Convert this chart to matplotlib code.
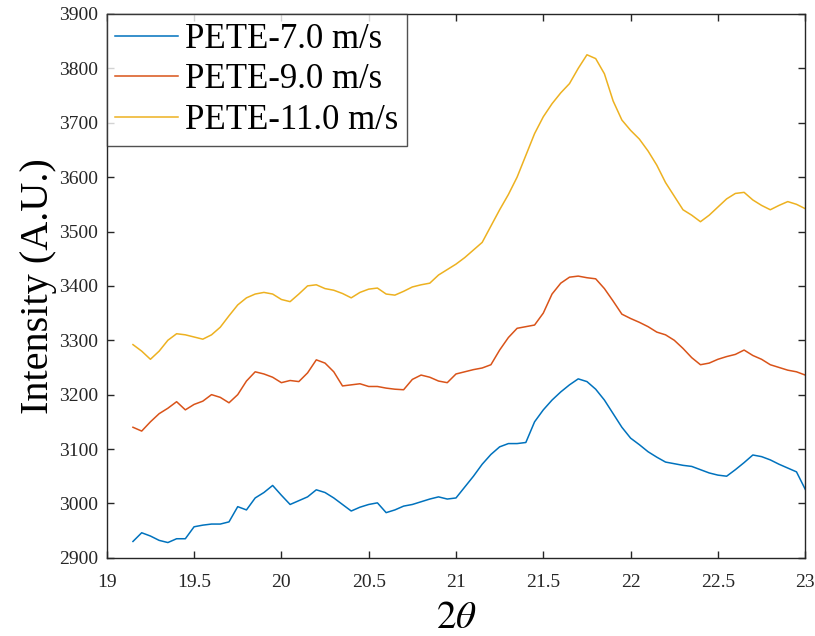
import matplotlib.pyplot as plt
import numpy as np

# intensities, 2theta = 19.15 ... 23.0 in 0.05 steps
pete_7 = [2930, 2946, 2940, 2932, 2928, 2935, 2935, 2957, 2960, 2962,
          2962, 2966, 2994, 2988, 3010, 3020, 3033, 3015, 2998, 3005,
          3012, 3025, 3020, 3010, 2998, 2986, 2993, 2998, 3001, 2983,
          2988, 2995, 2998, 3003, 3008, 3012, 3008, 3010, 3030, 3050,
          3072, 3090, 3104, 3110, 3110, 3112, 3150, 3172, 3190, 3205,
          3218, 3229, 3224, 3210, 3190, 3165, 3140, 3120, 3108, 3095,
          3085, 3076, 3073, 3070, 3068, 3062, 3056, 3052, 3050,
          3062, 3075, 3089, 3086, 3080, 3072, 3065, 3058, 3026]
pete_9 = [3140, 3133, 3150, 3165, 3175, 3187, 3172, 3182, 3188, 3200,
          3195, 3185, 3200, 3225, 3242, 3238, 3232, 3222, 3226, 3224,
          3240, 3264, 3258, 3242, 3216, 3218, 3220, 3215, 3215, 3212,
          3210, 3209, 3228, 3236, 3232, 3225, 3222, 3238, 3242, 3246,
          3249, 3255, 3282, 3305, 3322, 3325, 3328, 3350, 3385, 3405,
          3416, 3418, 3415, 3413, 3395, 3372, 3348, 3340, 3333, 3325,
          3315, 3310, 3300, 3285, 3268, 3255, 3258, 3265, 3270, 3274,
          3282, 3272, 3265, 3255, 3250, 3245, 3242, 3236]
pete_11 = [3292, 3280, 3265, 3280, 3300, 3312, 3310, 3306, 3302, 3310,
           3324, 3345, 3365, 3378, 3385, 3388, 3385, 3375, 3371, 3385,
           3400, 3402, 3395, 3392, 3386, 3378, 3388, 3394, 3396, 3385,
           3383, 3390, 3398, 3402, 3405, 3420, 3430, 3440, 3452, 3466,
           3480, 3510, 3540, 3568, 3600, 3640, 3680, 3711, 3735, 3755,
           3772, 3800, 3825, 3818, 3790, 3740, 3705, 3686, 3670, 3648,
           3622, 3590, 3565, 3540, 3530, 3518, 3530, 3545, 3560, 3570,
           3572, 3558, 3548, 3540, 3548, 3555, 3550, 3542]

# 2-theta grid (deg)
two_theta = 19.15 + 0.05 * np.arange(len(pete_7))

labels = ['PETE-7.0 m/s', 'PETE-9.0 m/s', 'PETE-11.0 m/s']
colors = ['#0072BD', '#D95319', '#EDB120']

plt.rcParams['font.family'] = ['Liberation Serif', 'DejaVu Serif']
plt.rcParams['mathtext.fontset'] = 'stix'

fig = plt.figure(figsize=(8.15, 6.36), dpi=100)
ax = fig.add_axes([0.131, 0.123, 0.857, 0.855])

for series, lab, col in zip([pete_7, pete_9, pete_11], labels, colors):
    ax.plot(two_theta, series, color=col, linewidth=1.1, label=lab)

ax.set_xlim(19, 23)
ax.set_ylim(2900, 3900)
ax.set_xticks(np.arange(19, 23.01, 0.5))
ax.set_xticklabels(['19', '19.5', '20', '20.5', '21', '21.5', '22', '22.5', '23'])
ax.set_yticks(np.arange(2900, 3901, 100))

ax.tick_params(direction='in', top=True, right=True, length=5, width=1,
               labelsize=14, colors='#262626', pad=6)
ax.tick_params(axis='x', pad=12)
for sp in ax.spines.values():
    sp.set_color('#262626')
    sp.set_linewidth(1)

ax.set_xlabel(r'$2\theta$', fontsize=28, labelpad=6)
ax.set_ylabel('Intensity (A.U.)', fontsize=29, labelpad=2)

leg = ax.legend(loc='upper left', fontsize=25, frameon=True, fancybox=False,
                edgecolor='#262626', borderaxespad=0, handlelength=1.8,
                handletextpad=0.2, borderpad=0.25, labelspacing=0.22)
leg.get_frame().set_linewidth(1)

fig.savefig('out.png', dpi=100)
